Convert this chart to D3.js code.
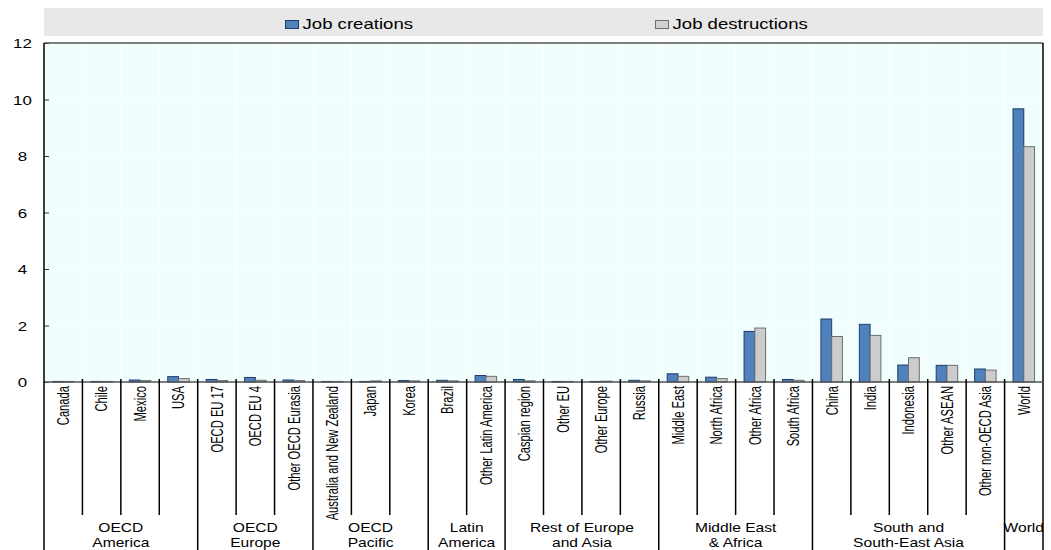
<!DOCTYPE html>
<html><head><meta charset="utf-8">
<script src="https://cdn.jsdelivr.net/npm/d3@7"></script>
<style>body{margin:0;background:#fff;}svg{display:block;}</style>
</head><body><svg id="c" width="1051" height="550"></svg>
<script>
const categories = ["Canada","Chile","Mexico","USA","OECD EU 17","OECD EU 4","Other OECD Eurasia","Australia and New Zealand","Japan","Korea","Brazil","Other Latin America","Caspian region","Other EU","Other Europe","Russia","Middle East","North Africa","Other Africa","South Africa","China","India","Indonesia","Other ASEAN","Other non-OECD Asia","World"];
const jobCreations = [0.02,0.02,0.07,0.19,0.09,0.16,0.07,0.02,0.02,0.05,0.06,0.23,0.09,0.02,0.02,0.06,0.29,0.17,1.79,0.09,2.23,2.04,0.60,0.59,0.46,9.67];
const jobDestructions = [0.02,0.02,0.05,0.12,0.05,0.06,0.05,0.02,0.04,0.04,0.04,0.20,0.04,0.02,0.03,0.04,0.20,0.12,1.91,0.06,1.61,1.65,0.86,0.59,0.42,8.33];
const groupNames = [["OECD","America"],["OECD","Europe"],["OECD","Pacific"],["Latin","America"],["Rest of Europe","and Asia"],["Middle East","& Africa"],["South and","South-East Asia"],["World"]];
const groupSizes = [4,3,3,2,4,4,5,1];
const yTicks = [0,2,4,6,8,10,12];
const seriesNames = ["Job creations","Job destructions"];

const FONT = "'Liberation Sans',Arial,Helvetica,sans-serif";
const SX = 1.3; // horizontal stretch seen in the reference
const svg = d3.select("#c");
const L = 44, R = 1043, T = 43, B = 382;
const x = d3.scaleBand().domain(categories).range([L, R]).paddingInner(0).paddingOuter(0);
const y = d3.scaleLinear().domain([0, 12]).range([B, T]);
const bw = x.bandwidth();

svg.append("defs").append("clipPath").attr("id", "gclip")
  .append("rect").attr("x", L).attr("y", B).attr("width", R - L).attr("height", 550 - B);

function htext(parent, px, py, str, size, anchor) {
  return parent.append("text").attr("transform", `translate(${px},${py}) scale(${SX},1)`)
    .attr("x", 0).attr("y", 0).attr("text-anchor", anchor || "start")
    .attr("font-family", FONT).attr("font-size", size).attr("fill", "#000").text(str);
}

// legend band
svg.append("rect").attr("x", L).attr("y", 8).attr("width", R - L).attr("height", 28).attr("fill", "#e8e8e8");
const legItems = [{n: seriesNames[0], x: 285, fill: "#4f81bd", stroke: "#1f3d6b"}, {n: seriesNames[1], x: 655, fill: "#d0d0d0", stroke: "#6e6e6e"}];
legItems.forEach(d => {
  svg.append("rect").attr("x", d.x + 0.5).attr("y", 20.5).attr("width", 13).attr("height", 8).attr("fill", d.fill).attr("stroke", d.stroke).attr("stroke-width", 1);
  htext(svg, d.x + 17.5, 28.5, d.n, 14.3, "start");
});

// plot background
svg.append("rect").attr("x", L).attr("y", T).attr("width", R - L).attr("height", B - T).attr("fill", "#f0fefe");
yTicks.forEach(t => svg.append("line").attr("x1", L).attr("x2", R).attr("y1", y(t)).attr("y2", y(t)).attr("stroke", "#ffffff").attr("stroke-width", 1));
categories.forEach((c, i) => { if (i > 0) svg.append("line").attr("x1", x(c)).attr("x2", x(c)).attr("y1", T).attr("y2", B).attr("stroke", "#ffffff").attr("stroke-width", 1); });

// bars
const barW = bw * 0.28;
const off = (bw - 2 * barW) / 2;
svg.append("g").selectAll("rect").data(categories).join("rect")
  .attr("x", c => x(c) + off).attr("y", (c, i) => y(jobCreations[i])).attr("width", barW)
  .attr("height", (c, i) => y(0) - y(jobCreations[i])).attr("fill", "#4f81bd").attr("stroke", "#1f3d6b").attr("stroke-width", 1);
svg.append("g").selectAll("rect").data(categories).join("rect")
  .attr("x", c => x(c) + off + barW).attr("y", (c, i) => y(jobDestructions[i])).attr("width", barW)
  .attr("height", (c, i) => y(0) - y(jobDestructions[i])).attr("fill", "#cccccc").attr("stroke", "#6e6e6e").attr("stroke-width", 1);

// y axis
const yAxis = d3.axisLeft(y).tickValues(yTicks).tickSize(-5).tickFormat(d3.format("d"));
const ya = svg.append("g").attr("transform", `translate(${L},0)`).call(yAxis);
ya.select(".domain").remove();
ya.selectAll(".tick line").attr("stroke", "#333");
ya.selectAll(".tick text").each(function() {
  d3.select(this).attr("x", null).attr("dy", null)
    .attr("transform", `translate(${22.5 - L},4.7) scale(${SX},1)`)
    .attr("text-anchor", "middle").attr("font-family", FONT).attr("font-size", 13).attr("fill", "#000");
});

// category labels (rotated; glyphs stretched horizontally as in the reference)
const xAxis = d3.axisBottom(x).tickSize(0).tickPadding(0);
const xa = svg.append("g").attr("transform", `translate(0,${B})`).call(xAxis);
xa.select(".domain").remove();
xa.selectAll(".tick text").attr("y", null).attr("dy", null)
  .attr("transform", "translate(0,4) rotate(-90) scale(1,1.45)")
  .attr("x", 0).attr("y", 0).attr("dy", "0.36em").attr("text-anchor", "end")
  .attr("font-family", FONT).attr("font-size", 11.2).attr("fill", "#000");

// group labels (clipped at the plot edges)
let idx = 0;
const groupBounds = [];
groupSizes.forEach(s => { groupBounds.push([idx, idx + s]); idx += s; });
const gl = svg.append("g").attr("clip-path", "url(#gclip)");
groupBounds.forEach((b, g) => {
  const x0 = x(categories[b[0]]), x1 = x(categories[b[1] - 1]) + bw;
  groupNames[g].forEach((ln, k) => htext(gl, (x0 + x1) / 2, 532 + k * 15, ln, 12, "middle"));
});

// frame
svg.append("line").attr("x1", L).attr("x2", R).attr("y1", T).attr("y2", T).attr("stroke", "#555").attr("stroke-width", 1.5);
svg.append("line").attr("x1", R).attr("x2", R).attr("y1", T).attr("y2", 550).attr("stroke", "#000").attr("stroke-width", 1.5);
svg.append("line").attr("x1", L).attr("x2", R).attr("y1", B).attr("y2", B).attr("stroke", "#555").attr("stroke-width", 1.5);
svg.append("line").attr("x1", L).attr("x2", L).attr("y1", T).attr("y2", 550).attr("stroke", "#000").attr("stroke-width", 1.5);

// separators
const groupStarts = new Set(groupBounds.map(b => b[0]));
categories.forEach((c, i) => {
  if (i === 0) return;
  const isGroup = groupStarts.has(i);
  svg.append("line").attr("x1", x(c)).attr("x2", x(c)).attr("y1", B - 3).attr("y2", isGroup ? 550 : 515).attr("stroke", "#000").attr("stroke-width", 1.5);
});
</script></body></html>
